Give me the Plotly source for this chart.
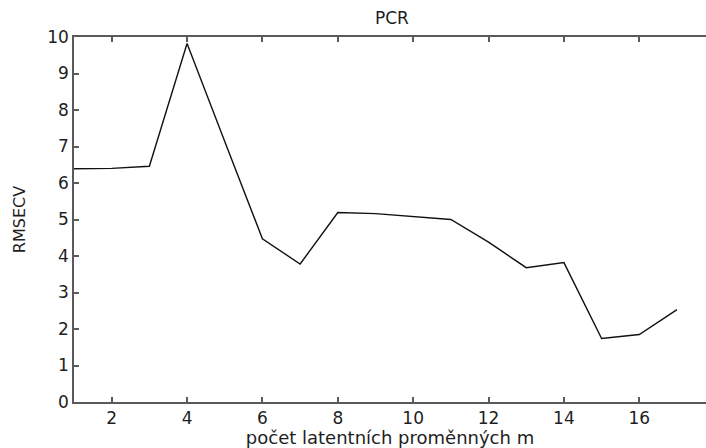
import plotly.graph_objects as go

components = [1, 2, 3, 4, 5, 6, 7, 8, 9, 10, 11, 12, 13, 14, 15, 16, 17]
rmsecv = [6.39, 6.40, 6.46, 9.82, 7.14, 4.47, 3.78, 5.19, 5.16, 5.07, 5.00, 4.38, 3.68, 3.82, 1.74, 1.85, 2.53]
x_ticks = [2, 4, 6, 8, 10, 12, 14, 16]
y_ticks = [0, 1, 2, 3, 4, 5, 6, 7, 8, 9, 10]

font_family = "DejaVu Sans, Liberation Sans, Arial, sans-serif"
axis_col = "#5a5a5a"
text_col = "#1e1e1e"

fig = go.Figure()
fig.add_trace(go.Scatter(x=components, y=rmsecv, mode="lines",
                         line=dict(color="#111111", width=1.4),
                         showlegend=False, hoverinfo="skip"))

plot_w = 706 - 74
plot_h = 448 - 37 - 46

fig.update_layout(
    width=706, height=448,
    margin=dict(l=74, r=0, t=37, b=46),
    paper_bgcolor="white", plot_bgcolor="white",
    font=dict(family=font_family, size=16, color=text_col),
    annotations=[
        dict(text="PCR", x=(392 - 74) / plot_w, y=(448 - 46 - 18) / plot_h,
             xref="paper", yref="paper", showarrow=False,
             xanchor="center", yanchor="middle",
             font=dict(size=17, family=font_family, color=text_col)),
    ],
)

fig.update_xaxes(
    range=[1, 17.77], tickmode="array", tickvals=x_ticks,
    ticks="inside", ticklen=5, tickwidth=1.5, tickcolor=axis_col,
    showline=True, linecolor=axis_col, linewidth=1.5, mirror="ticks",
    showgrid=False, zeroline=False,
    tickfont=dict(size=17, family=font_family, color=text_col),
    title=dict(text="počet latentních proměnných m", standoff=0,
               font=dict(size=18, family=font_family, color=text_col)),
)
fig.update_yaxes(
    range=[0, 10], tickmode="array", tickvals=y_ticks,
    ticks="inside", ticklen=5, tickwidth=1.5, tickcolor=axis_col,
    showline=True, linecolor=axis_col, linewidth=1.5, mirror=False,
    showgrid=False, zeroline=False,
    tickfont=dict(size=17, family=font_family, color=text_col),
    title=dict(text="RMSECV", standoff=18,
               font=dict(size=16, family=font_family, color=text_col)),
)

fig.write_html("out.html")
